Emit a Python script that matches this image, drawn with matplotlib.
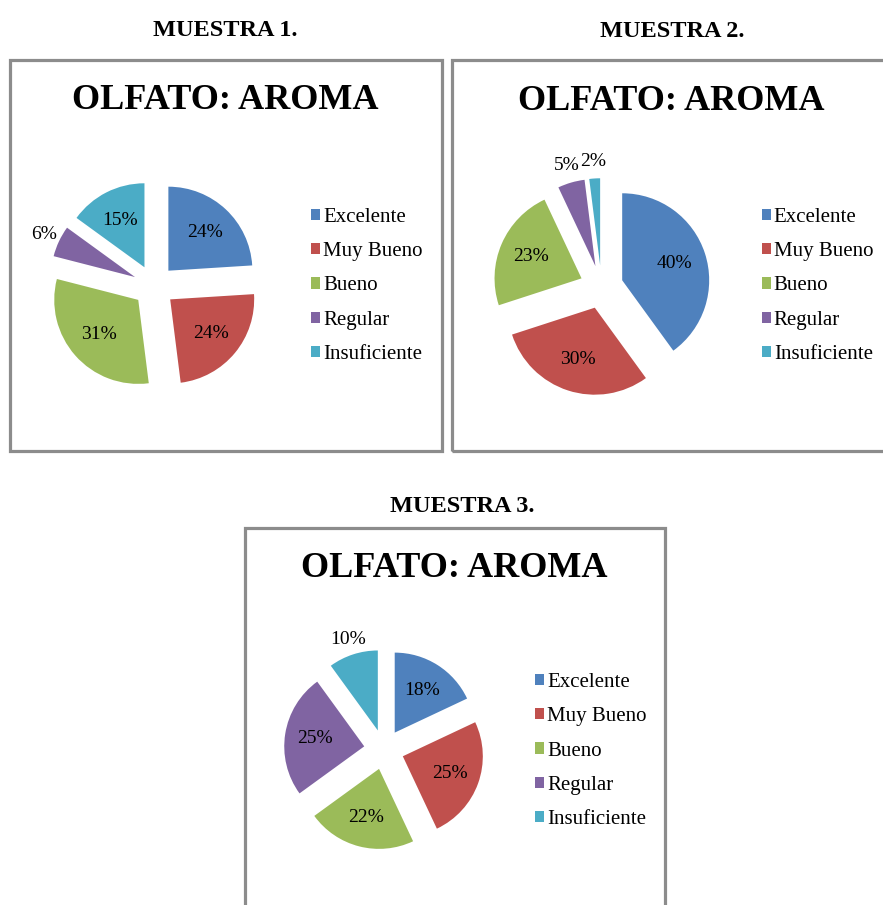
import matplotlib
matplotlib.use("Agg")
import matplotlib.pyplot as plt
from matplotlib.patches import Rectangle
import numpy as np

# Data
categories = ["Excelente", "Muy Bueno", "Bueno", "Regular", "Insuficiente"]
muestra_1 = [24, 24, 31, 6, 15]
muestra_2 = [40, 30, 23, 5, 2]
muestra_3 = [18, 25, 22, 25, 10]
panel_titles = ["MUESTRA 1.", "MUESTRA 2.", "MUESTRA 3."]
chart_title = "OLFATO: AROMA"
colors = ["#4F81BD", "#C0504D", "#9BBB59", "#8064A2", "#4BACC6"]

plt.rcParams["font.family"] = ["Liberation Serif", "DejaVu Serif"]

W, H = 883, 905
fig = plt.figure(figsize=(W / 100, H / 100), dpi=100)
ax = fig.add_axes([0, 0, 1, 1])


def sy(y):
    """Convert a top-down pixel row into the axes' bottom-up y."""
    return H - y


# Layout of each panel in pixels measured from the top-left corner
panels = [
    dict(values=muestra_1, head=(225, 36), box=(10, 60, 442, 451),
         title=(225, 109), center=(154, 286), r=84, legend=(311, 286)),
    dict(values=muestra_2, head=(672, 37), box=(452, 60, 896, 451),
         title=(671, 110), center=(601.5, 287), r=87, legend=(762, 286)),
    dict(values=muestra_3, head=(462, 512), box=(245, 528, 665, 918),
         title=(454, 577), center=(384, 749.5), r=80, legend=(535, 751)),
]

explode_frac = 0.25
border_color = "#8c8c8c"

for name, p in zip(panel_titles, panels):
    x0, y0, x1, y1 = p["box"]
    ax.add_patch(Rectangle((x0, sy(y1)), x1 - x0, y1 - y0, fill=False,
                           edgecolor=border_color, linewidth=2.3, zorder=1))

    ax.text(p["head"][0], sy(p["head"][1]), name, ha="center", va="baseline",
            fontsize=17.5, fontweight="bold", color="black")
    ax.text(p["title"][0], sy(p["title"][1]), chart_title, ha="center",
            va="baseline", fontsize=26, fontweight="bold", color="black")

    values = p["values"]
    cx, cy = p["center"]
    r = p["r"]
    # explode is given in data units, so scale it by the radius
    wedges, _ = ax.pie(values, colors=colors, startangle=90, counterclock=False,
                       explode=[explode_frac * r] * len(values), radius=r,
                       center=(cx, sy(cy)), wedgeprops=dict(linewidth=0))

    # Percentage labels: inside the slice, or just outside for thin slices
    for w, v in zip(wedges, values):
        mid = np.deg2rad((w.theta1 + w.theta2) / 2)
        dist = 0.63 if v >= 12 else 1.2
        lx = w.center[0] + dist * w.r * np.cos(mid)
        ly = w.center[1] + dist * w.r * np.sin(mid)
        ax.text(lx, ly, f"{v}%", ha="center", va="center", fontsize=14,
                color="black")

    lx, ly = p["legend"]
    fig.legend(wedges, categories, loc="center left",
               bbox_to_anchor=(lx / W, 1 - ly / H), frameon=False,
               fontsize=15, handlelength=0.45, handleheight=0.45,
               handletextpad=0.12, labelspacing=0.73, borderpad=0,
               borderaxespad=0)

ax.set_xlim(0, W)
ax.set_ylim(0, H)
ax.set_aspect("auto")
ax.axis("off")

fig.savefig("out.png", dpi=100, facecolor="white")
